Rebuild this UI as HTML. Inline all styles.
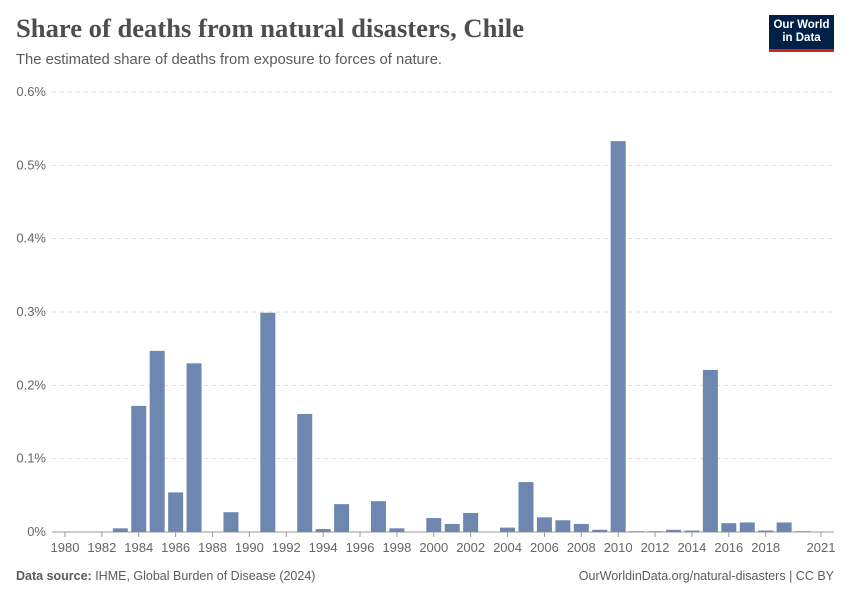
<!DOCTYPE html>
<html><head><meta charset="utf-8"><style>
body{margin:0;background:#fff;font-family:"Liberation Sans",sans-serif;}
#wrap{position:relative;width:850px;height:600px;overflow:hidden}
.title{position:absolute;left:16px;top:13px;font-family:"Liberation Serif",serif;font-size:26.6px;font-weight:bold;color:#4e4e4e}
.sub{position:absolute;left:16px;top:52px;font-size:14.8px;color:#5b5b5b}
.logo{position:absolute;left:769px;top:15px;width:65px;height:37px;background:#002147;color:#fff;font-size:11.5px;font-weight:bold;text-align:center;line-height:13px;padding-top:4px;box-sizing:border-box;border-bottom:3px solid #ce261e}
.foot{position:absolute;top:569px;font-size:12.5px;color:#5b5b5b}
</style></head><body><div id="wrap">
<div class="title">Share of deaths from natural disasters, Chile</div>
<div class="sub">The estimated share of deaths from exposure to forces of nature.</div>
<div class="logo">Our World<br>in Data</div>
<svg id="svg" width="850" height="600" style="position:absolute;left:0;top:0"></svg>
<div class="foot" style="left:16px"><b>Data source:</b> IHME, Global Burden of Disease (2024)</div>
<div class="foot" style="right:16px">OurWorldinData.org/natural-disasters | CC BY</div>
</div>
<script>
const years=[1980,1981,1982,1983,1984,1985,1986,1987,1988,1989,1990,1991,1992,1993,1994,1995,1996,1997,1998,1999,2000,2001,2002,2003,2004,2005,2006,2007,2008,2009,2010,2011,2012,2013,2014,2015,2016,2017,2018,2019,2020,2021];
const values=[0,0,0,0.005,0.172,0.247,0.054,0.230,0,0.027,0,0.299,0,0.161,0.004,0.038,0,0.042,0.005,0,0.019,0.011,0.026,0,0.006,0.068,0.020,0.016,0.011,0.003,0.533,0.001,0.001,0.003,0.002,0.221,0.012,0.013,0.002,0.013,0.001,0];
const yTicks=[0,0.1,0.2,0.3,0.4,0.5,0.6];
const xTicks=[1980,1982,1984,1986,1988,1990,1992,1994,1996,1998,2000,2002,2004,2006,2008,2010,2012,2014,2016,2018,2021];
const svg=document.getElementById('svg');const NS='http://www.w3.org/2000/svg';
const y=v=>532-v/0.6*440;
const x=yr=>65+(yr-1980)*(756/41);
function mk(t,a){const e=document.createElementNS(NS,t);for(const k in a)e.setAttribute(k,a[k]);svg.appendChild(e);return e;}
yTicks.forEach(v=>{
 const l=mk('line',{x1:52,x2:834,y1:y(v),y2:y(v),stroke:v?'#ddd':'#999','stroke-dasharray':v?'4,4':'none'});
 
 
 const t=mk('text',{x:46,y:y(v)+4,'text-anchor':'end','font-size':13,fill:'#666','font-family':'Liberation Sans'});
 t.textContent=v+'%';
 
 
});
years.forEach((yr,i)=>{
 if(!values[i])return;
 const r=mk('rect',{x:x(yr)-7.5,width:15,y:y(values[i]),height:532-y(values[i]),fill:'#6d87b1'});
 
 
});
xTicks.forEach(yr=>{
 const l=mk('line',{x1:x(yr),x2:x(yr),y1:532,y2:537,stroke:'#999'});
 
 
 const t=mk('text',{x:x(yr),y:552,'text-anchor':'middle','font-size':13,fill:'#666','font-family':'Liberation Sans'});
 t.textContent=yr;
 
 
});
</script></body></html>
